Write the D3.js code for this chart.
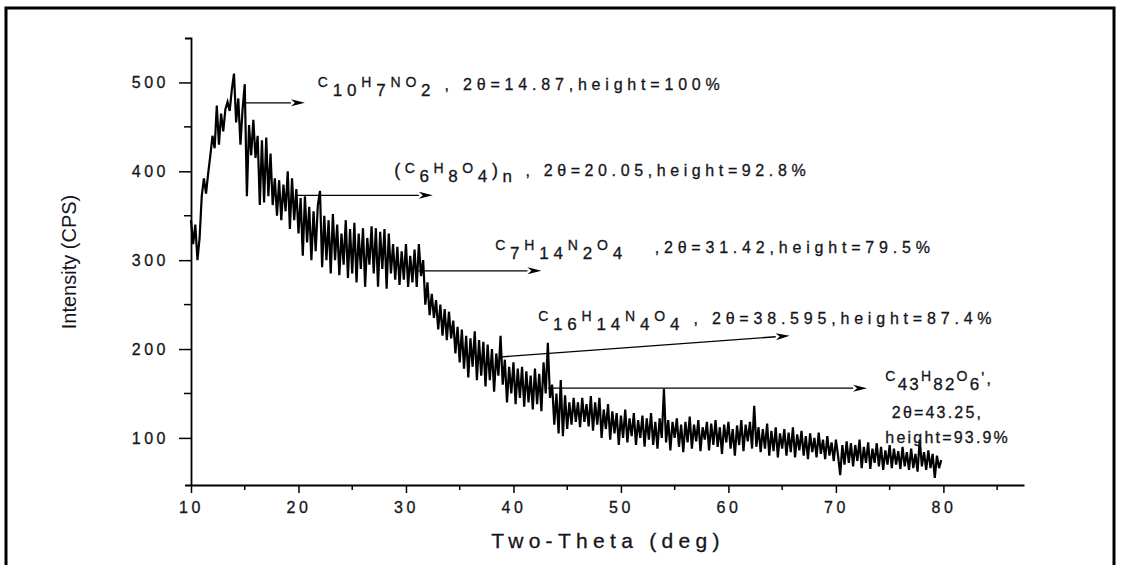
<!DOCTYPE html>
<html>
<head>
<meta charset="utf-8">
<script src="https://cdn.jsdelivr.net/npm/d3@7"></script>
<style>
  body { margin: 0; background: #fff; }
  svg { display: block; font-family: Arial, 'Liberation Sans', sans-serif; }
</style>
</head>
<body>
<svg id="chart"></svg>
<script>
// scan: 2theta from 10 deg, step 0.2 deg
let startAngle = 10
let stepAngle = 0.2
// intensity (CPS), one row per degree
let intensity = [
  345, 318, 340, 300, 325,   // 10
  372, 392, 375, 398, 418,   // 11
  440, 426, 474, 430, 465,   // 12
  445, 470, 478, 468, 492,   // 13
  510, 455, 482, 430, 470,   // 14
  498, 372, 452, 418, 458,   // 15
  415, 440, 362, 435, 365,   // 16
  438, 372, 420, 362, 392,   // 17
  350, 390, 345, 385, 355,   // 18
  400, 335, 392, 345, 380,   // 19
  330, 370, 305, 372, 320,   // 20
  360, 300, 355, 310, 362,   // 21
  378, 292, 350, 300, 345,   // 22
  285, 352, 300, 340, 283,   // 23
  330, 295, 345, 280, 335,   // 24
  285, 342, 275, 330, 290,   // 25
  336, 270, 325, 295, 338,   // 26
  285, 336, 270, 332, 290,   // 27
  335, 268, 330, 285, 318,   // 28
  278, 315, 272, 310, 278,   // 29
  318, 270, 305, 275, 312,   // 30
  270, 318, 282, 300, 250,   // 31
  275, 238, 262, 235, 255,   // 32
  222, 250, 215, 245, 210,   // 33
  242, 212, 232, 195, 225,   // 34
  185, 222, 178, 215, 168,   // 35
  212, 180, 220, 165, 210,   // 36
  170, 208, 158, 205, 165,   // 37
  200, 152, 195, 170, 215,   // 38
  160, 188, 140, 180, 150,   // 39
  185, 138, 178, 145, 180,   // 40
  135, 175, 140, 170, 132,   // 41
  178, 138, 172, 130, 185,   // 42
  150, 207, 145, 160, 115,   // 43
  150, 105, 165, 102, 148,   // 44
  110, 140, 115, 145, 118,   // 45
  140, 112, 145, 118, 138,   // 46
  113, 147, 108, 140, 115,   // 47
  145, 100, 132, 110, 138,   // 48
  98, 130, 105, 128, 92,     // 49
  125, 100, 132, 95, 122,    // 50
  102, 128, 92, 120, 100,    // 51
  125, 90, 122, 98, 128,     // 52
  92, 118, 88, 122, 100,     // 53
  155, 95, 120, 86, 118,     // 54
  100, 122, 90, 115, 84,     // 55
  118, 95, 124, 88, 115,     // 56
  96, 120, 85, 112, 98,      // 57
  118, 86, 116, 92, 120,     // 58
  90, 112, 82, 115, 95,      // 59
  118, 88, 110, 80, 114,     // 60
  92, 120, 85, 115, 96,      // 61
  118, 88, 136, 90, 112,     // 62
  84, 110, 88, 116, 80,      // 63
  108, 85, 112, 78, 105,     // 64
  88, 110, 80, 106, 84,      // 65
  112, 78, 104, 86, 108,     // 66
  80, 102, 76, 105, 84,      // 67
  100, 78, 106, 82, 98,      // 68
  76, 102, 80, 95, 74,       // 69
  98, 80, 58, 92, 70,        // 70
  96, 72, 94, 68, 92,        // 71
  74, 98, 66, 90, 72,        // 72
  95, 65, 88, 72, 94,        // 73
  68, 90, 64, 86, 70,        // 74
  92, 66, 88, 70, 85,        // 75
  65, 90, 68, 84, 64,        // 76
  88, 66, 82, 62, 98,        // 77
  68, 84, 64, 86, 66,        // 78
  82, 55, 80, 66, 75         // 79
]

let xTicks = [10, 20, 30, 40, 50, 60, 70, 80]
let xMinor = [15, 25, 35, 45, 55, 65, 75, 85]
let yTicks = [100, 200, 300, 400, 500]
let yMinor = [150, 250, 350, 450]

// peak annotations: arrow start/end in (2theta, CPS), label anchor in (2theta, CPS)
let peakFormula = ['C{10}H{7}NO{2}', '(C{6}H{8}O{4}){n}', 'C{7}H{14}N{2}O{4}', 'C{16}H{14}N{4}O{4}', 'C{43}H{82}O{6}']
let peakText = [' , 2θ=14.87,height=100%', ' , 2θ=20.05,height=92.8%', '   ,2θ=31.42,height=79.5%', ' , 2θ=38.595,height=87.4%', "',"]
let arrowFrom = [[15.0, 477], [19.9, 373], [31.1, 288], [38.7, 191], [43.2, 156]]
let arrowTo = [[20.6, 477], [32.5, 373], [42.6, 288], [65.7, 215], [72.9, 156]]
let labelAt = [[21.8, 492], [28.9, 395], [38.3, 308], [42.3, 228], [74.6, 161]]
let labelSpacing = [4.8, 4.6, 4.8, 4.8, 2.2]
let extraLines = ['2θ=43.25,', 'height=93.9%']
let extraAt = [[75.2, 122], [74.6, 94]]

let W = 1121, H = 565
let svg = d3.select('#chart').attr('width', W).attr('height', H)

// outer frame
svg.append('rect')
  .attr('x', 6).attr('y', 8).attr('width', 1108).attr('height', 600)
  .attr('fill', 'none').attr('stroke', '#000').attr('stroke-width', 3)

let x = d3.scaleLinear().domain([10, 87.5]).range([191, 1024])
let y = d3.scaleLinear().domain([47, 550]).range([485, 38])

let textColor = '#151520'

// x axis
let gx = svg.append('g').attr('transform', `translate(0,${y(47)})`)
gx.call(d3.axisBottom(x).tickValues(xTicks).tickSize(8).tickSizeOuter(0).tickFormat(d3.format('d')))
gx.selectAll('.tick line').attr('stroke-width', 1.5)
gx.select('.domain').attr('stroke-width', 1.8)
gx.selectAll('.tick text')
  .attr('font-size', 16).attr('fill', textColor).attr('dy', '1.05em')
  .attr('stroke', textColor).attr('stroke-width', 0.3)
  .style('letter-spacing', '3.5px')
gx.selectAll('.minor')
  .data(xMinor).enter().append('line')
  .attr('x1', d => x(d)).attr('x2', d => x(d))
  .attr('y1', 0).attr('y2', 5)
  .attr('stroke', '#000').attr('stroke-width', 1.5)

// y axis
let gy = svg.append('g').attr('transform', `translate(${x(10)},0)`)
gy.call(d3.axisLeft(y).tickValues(yTicks).tickSize(12).tickSizeOuter(6).tickFormat(d3.format('d')))
gy.selectAll('.tick line').attr('stroke-width', 1.5)
gy.select('.domain').attr('stroke-width', 1.8)
gy.selectAll('.tick text')
  .attr('font-size', 16).attr('fill', textColor).attr('x', -22)
  .attr('stroke', textColor).attr('stroke-width', 0.3)
  .style('letter-spacing', '3.5px')
gy.selectAll('.minor')
  .data(yMinor).enter().append('line')
  .attr('x1', -7).attr('x2', 0)
  .attr('y1', d => y(d)).attr('y2', d => y(d))
  .attr('stroke', '#000').attr('stroke-width', 1.5)

// axis titles
svg.append('text')
  .attr('x', 608).attr('y', 548)
  .attr('text-anchor', 'middle')
  .attr('font-size', 21).attr('fill', textColor)
  .attr('stroke', textColor).attr('stroke-width', 0.3)
  .style('letter-spacing', '5.3px')
  .text('Two-Theta (deg)')

svg.append('text')
  .attr('transform', 'translate(76,262) rotate(-90)')
  .attr('text-anchor', 'middle')
  .attr('font-size', 20).attr('fill', textColor)
  .text('Intensity (CPS)')

// pattern
let line = d3.line()
  .x((d, i) => x(startAngle + i * stepAngle))
  .y(d => y(d))

svg.append('path')
  .datum(intensity)
  .attr('d', line)
  .attr('fill', 'none')
  .attr('stroke', '#000')
  .attr('stroke-width', 2.2)
  .attr('stroke-linejoin', 'miter')

// arrows
function arrow(from, to) {
  let x1 = x(from[0]), y1 = y(from[1]), x2 = x(to[0]), y2 = y(to[1])
  let a = Math.atan2(y2 - y1, x2 - x1)
  let len = 14, hw = 3.5
  let bx = x2 - len * Math.cos(a), by = y2 - len * Math.sin(a)
  svg.append('line')
    .attr('x1', x1).attr('y1', y1).attr('x2', bx).attr('y2', by)
    .attr('stroke', '#000').attr('stroke-width', 1.3)
  svg.append('path')
    .attr('d', `M${x2},${y2}L${bx - hw * Math.sin(a)},${by + hw * Math.cos(a)}L${bx + 4 * Math.cos(a)},${by + 4 * Math.sin(a)}L${bx + hw * Math.sin(a)},${by - hw * Math.cos(a)}Z`)
    .attr('fill', '#000')
}

// formula text: letters raised & small, {digits} lowered
function label(at, formula, rest, ls) {
  let t = svg.append('text')
    .attr('x', x(at[0])).attr('y', y(at[1]))
    .attr('fill', textColor)
    .attr('stroke', textColor).attr('stroke-width', 0.3)
    .style('letter-spacing', ls + 'px')
  let cur = 0
  let parts = formula.match(/\{[^}]+\}|[^{}]/g)
  parts.forEach(p => {
    let off, size
    if (p[0] == '{') { p = p.slice(1, -1); off = 6; size = 17 }
    else if (p == '(' || p == ')') { off = 0; size = 18 }
    else { off = -3; size = 14 }
    t.append('tspan').attr('dy', off - cur).attr('font-size', size).text(p)
    cur = off
  })
  t.append('tspan').attr('dy', -cur).attr('font-size', 16)
    .style('white-space', 'pre').text(rest)
}

peakFormula.forEach((f, i) => {
  arrow(arrowFrom[i], arrowTo[i])
  label(labelAt[i], f, peakText[i], labelSpacing[i])
})
extraLines.forEach((s, i) => {
  svg.append('text')
    .attr('x', x(extraAt[i][0])).attr('y', y(extraAt[i][1]))
    .attr('font-size', 16).attr('fill', textColor)
    .attr('stroke', textColor).attr('stroke-width', 0.3)
    .style('letter-spacing', '2.2px')
    .text(s)
})
</script>
</body>
</html>
